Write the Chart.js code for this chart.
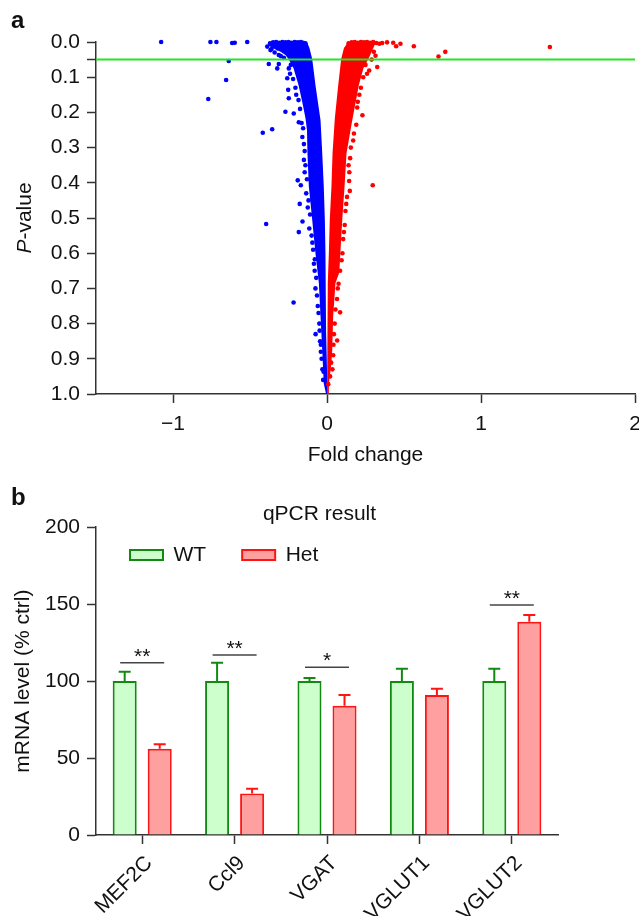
<!DOCTYPE html>
<html lang="en">
<head>
<meta charset="UTF-8" />
<title>Fold change volcano plot and qPCR result</title>
<script src="https://cdn.jsdelivr.net/npm/chart.js@4.4.1/dist/chart.umd.min.js"></script>
<style>
  body { margin: 0; background: #fff; font-family: 'Liberation Sans', Arial, sans-serif; color: #111; }
  #wrap { position: relative; width: 639px; height: 916px; overflow: hidden; }
  canvas { position: absolute; left: 0; }
  #volcano { top: 0; }
  #qpcr { top: 470px; }
  .panel { position: absolute; left: 11px; font-weight: bold; font-size: 24px; line-height: 1; }
  #ylabA { position: absolute; left: 24px; top: 218px; transform: translate(-50%, -50%) rotate(-90deg);
           font-size: 21px; line-height: normal; white-space: nowrap; }
</style>
</head>
<body>
<div id="wrap">
  <canvas id="volcano" width="639" height="470"></canvas>
  <canvas id="qpcr" width="639" height="446"></canvas>
  <div class="panel" style="top:8px">a</div>
  <div class="panel" style="top:485px">b</div>
  <div id="ylabA"><i>P</i>-value</div>
</div>
<script>
  // ---- panel a: fold change vs P-value ----
  const foldTicks = [-1, 0, 1, 2];
  const foldTickLabels = ['\u22121', '0', '1', '2'];
  const pTicks = [0, 0.05, 0.1, 0.2, 0.3, 0.4, 0.5, 0.6, 0.7, 0.8, 0.9, 1.0];
  const pTickLabels = ['0.0', '', '0.1', '0.2', '0.3', '0.4', '0.5', '0.6', '0.7', '0.8', '0.9', '1.0'];
  const pCutoff = 0.05;

  // outline of the dense cloud of down-regulated genes [fold change, P]
  const downCore = [
    [-0.38, 0], [-0.383, 0.0085], [-0.354, 0.017], [-0.302, 0.028], [-0.27, 0.037], [-0.25, 0.048],
    [-0.218, 0.074], [-0.185, 0.122], [-0.161, 0.17], [-0.14, 0.216], [-0.13, 0.25], [-0.127, 0.315],
    [-0.118, 0.41], [-0.096, 0.506], [-0.075, 0.6], [-0.053, 0.685], [-0.042, 0.78], [-0.031, 0.875],
    [-0.021, 0.97], [-0.006, 1.0], [0.003, 1.0], [0.0, 0.93], [-0.006, 0.82], [-0.01, 0.6],
    [-0.014, 0.506], [-0.021, 0.41], [-0.031, 0.315], [-0.042, 0.222], [-0.075, 0.122],
    [-0.096, 0.048], [-0.114, 0.017], [-0.126, 0.004], [-0.13, 0]
  ];
  // outline of the dense cloud of up-regulated genes
  const upCore = [
    [0.185, 0], [0.133, 0.003], [0.11, 0.017], [0.092, 0.048], [0.073, 0.122], [0.051, 0.216],
    [0.036, 0.315], [0.029, 0.41], [0.018, 0.506], [0.012, 0.6], [0.005, 0.685], [0.001, 0.78],
    [0.0, 1.0], [0.012, 1.0], [0.012, 0.97], [0.027, 0.92], [0.034, 0.875], [0.04, 0.78],
    [0.055, 0.685], [0.08, 0.655], [0.088, 0.59], [0.099, 0.506], [0.114, 0.41], [0.127, 0.315],
    [0.164, 0.222], [0.207, 0.122], [0.237, 0.074], [0.269, 0.048], [0.295, 0.023], [0.315, 0.003], [0.31, 0]
  ];
  // individual genes around the clouds
  const downGenes = [
    [-0.37, 0.004], [-0.35, 0.001], [-0.33, 0], [-0.31, 0.002], [-0.29, 0], [-0.27, 0.001], [-0.25, 0],
    [-0.23, 0.002], [-0.21, 0], [-0.19, 0.001], [-0.17, 0], [-0.155, 0.002], [-0.14, 0.004],
    [-0.388, 0.013], [-0.367, 0.023], [-0.313, 0.037], [-0.36, 0.02], [-0.34, 0.03], [-0.32, 0.018],
    [-0.30, 0.04], [-0.28, 0.045], [-0.378, 0.0625], [-0.313, 0.0625], [-0.323, 0.075], [-0.248, 0.075],
    [-0.258, 0.103], [-0.252, 0.136], [-0.248, 0.16], [-0.27, 0.198], [-0.216, 0.203], [-0.183, 0.228],
    [-0.235, 0.065], [-0.24, 0.09], [-0.22, 0.105], [-0.205, 0.13], [-0.2, 0.15], [-0.185, 0.165],
    [-0.175, 0.19], [-0.165, 0.23], [-0.155, 0.245], [-0.16, 0.27], [-0.15, 0.29], [-0.145, 0.31],
    [-0.15, 0.335], [-0.14, 0.35], [-0.145, 0.37], [-0.13, 0.39], [-0.135, 0.43], [-0.12, 0.45],
    [-0.125, 0.47], [-0.11, 0.49], [-0.115, 0.53], [-0.1, 0.55], [-0.095, 0.57], [-0.09, 0.59],
    [-0.085, 0.63], [-0.08, 0.65], [-0.07, 0.67], [-0.075, 0.7], [-0.065, 0.72], [-0.06, 0.75],
    [-0.055, 0.77], [-0.05, 0.8], [-0.048, 0.82], [-0.045, 0.85], [-0.04, 0.88], [-0.035, 0.9],
    [-0.03, 0.93], [-0.025, 0.96],
    [-1.077, 0], [-0.757, 0], [-0.718, 0], [-0.616, 0.003], [-0.599, 0.002], [-0.518, 0],
    [-0.638, 0.054], [-0.655, 0.108], [-0.771, 0.162], [-0.417, 0.258], [-0.356, 0.248],
    [-0.19, 0.393], [-0.17, 0.407], [-0.177, 0.46], [-0.395, 0.517], [-0.159, 0.51], [-0.183, 0.54],
    [-0.079, 0.617], [-0.217, 0.74], [-0.074, 0.83], [-0.04, 0.86], [-0.022, 0.937]
  ];
  const upGenes = [
    [0.14, 0.004], [0.16, 0.001], [0.18, 0], [0.2, 0.002], [0.22, 0], [0.24, 0.001], [0.26, 0],
    [0.28, 0.002], [0.30, 0], [0.32, 0.003], [0.34, 0.005], [0.358, 0.003], [0.39, 0.001], [0.43, 0.002],
    [0.449, 0.012], [0.477, 0.005], [0.564, 0.012], [0.724, 0.041], [0.768, 0.028], [1.447, 0.014],
    [0.304, 0.028], [0.315, 0.039], [0.326, 0.071], [0.274, 0.081], [0.29, 0.05], [0.25, 0.065],
    [0.26, 0.09], [0.235, 0.1], [0.22, 0.13], [0.21, 0.15], [0.2, 0.17], [0.196, 0.186], [0.23, 0.208],
    [0.19, 0.235], [0.175, 0.26], [0.17, 0.28], [0.155, 0.3], [0.15, 0.33], [0.14, 0.35], [0.145, 0.37],
    [0.144, 0.395], [0.148, 0.423], [0.13, 0.44], [0.125, 0.46], [0.12, 0.48], [0.115, 0.52],
    [0.11, 0.54], [0.105, 0.56], [0.1, 0.6], [0.095, 0.62], [0.085, 0.65], [0.075, 0.687], [0.07, 0.7],
    [0.065, 0.73], [0.055, 0.76], [0.085, 0.768], [0.05, 0.8], [0.045, 0.83], [0.066, 0.848],
    [0.042, 0.86], [0.04, 0.89], [0.027, 0.911], [0.035, 0.93], [0.02, 0.95], [0.008, 0.972],
    [0.297, 0.407]
  ];

  // ---- panel b: qPCR ----
  const genes = ['MEF2C', 'Ccl9', 'VGAT', 'VGLUT1', 'VGLUT2'];
  const wtLevel = [100, 100, 100, 100, 100];
  const wtErr = [6, 12, 2, 8, 8];
  const hetLevel = [56, 27, 84, 91, 138.5];
  const hetErr = [3, 3, 7, 4, 4.5];
  const sigGenes = ['MEF2C', 'Ccl9', 'VGAT', 'VGLUT2'];
  const sigLevel = [112, 117, 109, 149.5];
  const sigMarks = ['**', '**', '*', '**'];
  const levelTicks = [0, 50, 100, 150, 200];

  const axisColor = '#333';
  const textColor = '#111';
  Chart.defaults.font.family = "'Liberation Sans', Arial, sans-serif";
  Chart.defaults.font.size = 21;
  Chart.defaults.color = textColor;

  const toXY = arr => arr.map(([x, y]) => ({x: x, y: y}));

  new Chart(document.getElementById('volcano'), {
    type: 'scatter',
    data: {
      datasets: [
        { type: 'line', label: 'P = 0.05', data: [{x: -1.5, y: pCutoff}, {x: 2, y: pCutoff}],
          borderColor: '#22e622', borderWidth: 2, pointRadius: 0, order: 0 },
        { label: 'Up', data: toXY(upGenes), backgroundColor: '#ff0000', borderWidth: 0,
          pointRadius: 2.3, clip: false, order: 1 },
        { type: 'line', label: 'Up (dense)', data: toXY(upCore), backgroundColor: '#ff0000',
          borderColor: 'rgba(0,0,0,0)', borderWidth: 0, pointRadius: 0, fill: 'shape', order: 2 },
        { label: 'Down', data: toXY(downGenes), backgroundColor: '#0000ff', borderWidth: 0,
          pointRadius: 2.3, clip: false, order: 3 },
        { type: 'line', label: 'Down (dense)', data: toXY(downCore), backgroundColor: '#0000ff',
          borderColor: 'rgba(0,0,0,0)', borderWidth: 0, pointRadius: 0, fill: 'shape', order: 4 }
      ]
    },
    options: {
      responsive: false,
      animation: false,
      events: [],
      layout: { padding: { top: 42, right: 4, bottom: 0, left: 0 } },
      plugins: { legend: { display: false }, tooltip: { enabled: false } },
      scales: {
        x: {
          type: 'linear', min: -1.5, max: 2,
          afterBuildTicks: s => { s.ticks = foldTicks.map(v => ({value: v})); },
          afterFit: s => { s.height = 76; s.paddingLeft = 0; s.paddingRight = 0; },
          border: { display: true, color: axisColor, width: 1.5 },
          grid: { drawOnChartArea: false, tickLength: 9, tickWidth: 1.5, tickColor: axisColor },
          ticks: { autoSkip: false, maxRotation: 0, padding: 9, callback: (v, i) => foldTickLabels[i] },
          title: { display: true, text: 'Fold change', padding: { top: 0, bottom: 2 } }
        },
        y: {
          type: 'linear', min: 0, max: 1, reverse: true,
          afterBuildTicks: s => { s.ticks = pTicks.map(v => ({value: v})); },
          afterFit: s => { s.width = 96; },
          border: { display: true, color: axisColor, width: 1.5 },
          grid: { drawOnChartArea: false, tickLength: 9, tickWidth: 1.5, tickColor: axisColor },
          ticks: { autoSkip: false, padding: 7, callback: (v, i) => pTickLabels[i] }
        }
      }
    }
  });

  // error bars on top of each bar
  const errorBars = {
    id: 'errorBars',
    afterDatasetsDraw(chart) {
      const {ctx} = chart;
      const y = chart.scales.y;
      const errs = [wtErr, hetErr];
      chart.data.datasets.forEach((ds, di) => {
        chart.getDatasetMeta(di).data.forEach((bar, i) => {
          const top = y.getPixelForValue(ds.data[i]);
          const end = y.getPixelForValue(ds.data[i] + errs[di][i]);
          ctx.save();
          ctx.strokeStyle = ds.borderColor;
          ctx.lineWidth = 2;
          ctx.beginPath();
          ctx.moveTo(bar.x, top);
          ctx.lineTo(bar.x, end);
          ctx.moveTo(bar.x - 6, end);
          ctx.lineTo(bar.x + 6, end);
          ctx.stroke();
          ctx.restore();
        });
      });
    }
  };

  // significance lines with stars
  const sigLines = {
    id: 'sigLines',
    afterDatasetsDraw(chart) {
      const {ctx} = chart;
      const x = chart.scales.x, y = chart.scales.y;
      sigGenes.forEach((g, k) => {
        const cx = x.getPixelForValue(genes.indexOf(g));
        const cy = y.getPixelForValue(sigLevel[k]);
        ctx.save();
        ctx.strokeStyle = '#444';
        ctx.lineWidth = 1.5;
        ctx.beginPath();
        ctx.moveTo(cx - 22, cy);
        ctx.lineTo(cx + 22, cy);
        ctx.stroke();
        ctx.fillStyle = textColor;
        ctx.font = "21px 'Liberation Sans', Arial, sans-serif";
        ctx.textAlign = 'center';
        ctx.textBaseline = 'alphabetic';
        ctx.fillText(sigMarks[k], cx, cy);
        ctx.restore();
      });
    }
  };

  // legend sits inside the plot, just under the title
  const legendSpot = {
    id: 'legendSpot',
    afterLayout(chart) {
      const lg = chart.legend;
      lg.left = chart.chartArea.left - 2;
      lg.right = chart.chartArea.right;
      lg.top = 38.5;
      lg.bottom = lg.top + 70;
    }
  };

  new Chart(document.getElementById('qpcr'), {
    type: 'bar',
    data: {
      labels: genes,
      datasets: [
        { label: 'WT', data: wtLevel, backgroundColor: '#ccffcc', borderColor: '#128a12', borderWidth: 2 },
        { label: 'Het', data: hetLevel, backgroundColor: '#ffa0a0', borderColor: '#ff1414', borderWidth: 2 }
      ]
    },
    options: {
      responsive: false,
      animation: false,
      events: [],
      barPercentage: 0.686,
      categoryPercentage: 0.758,
      layout: { padding: 0 },
      plugins: {
        tooltip: { enabled: false },
        title: { display: true, text: 'qPCR result', font: { size: 21, weight: 'normal' }, color: textColor,
                 padding: { top: 32, bottom: -1 } },
        legend: {
          position: 'top', align: 'start', fullSize: false, maxHeight: 1,
          labels: { boxWidth: 33, boxHeight: 10, padding: 36, font: { size: 21 }, color: textColor }
        }
      },
      scales: {
        x: {
          afterFit: s => { s.height = 81; s.paddingLeft = 0; s.paddingRight = 81; },
          border: { display: true, color: axisColor, width: 1.5 },
          grid: { offset: false, drawOnChartArea: false, tickLength: 9, tickWidth: 1.5, tickColor: axisColor },
          ticks: { minRotation: 45, maxRotation: 45, padding: 7, labelOffset: 7, autoSkip: false }
        },
        y: {
          min: 0, max: 200,
          afterBuildTicks: s => { s.ticks = levelTicks.map(v => ({value: v})); },
          afterFit: s => { s.width = 96; },
          border: { display: true, color: axisColor, width: 1.5 },
          grid: { drawOnChartArea: false, tickLength: 9, tickWidth: 1.5, tickColor: axisColor },
          ticks: { autoSkip: false, padding: 7 },
          title: { display: true, text: 'mRNA level (% ctrl)', padding: { top: 11, bottom: 0 } }
        }
      }
    },
    plugins: [errorBars, sigLines, legendSpot]
  });
</script>
</body>
</html>
